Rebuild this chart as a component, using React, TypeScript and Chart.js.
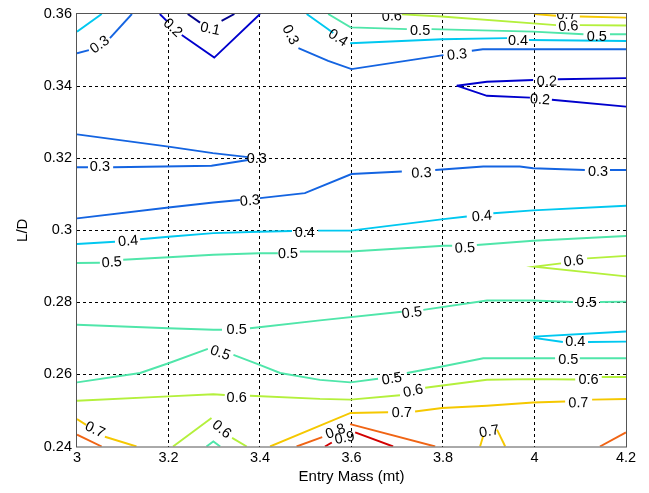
import React, { useEffect, useRef } from "react";
import { Chart, registerables } from "chart.js";

Chart.register(...registerables);

type Pt = [number, number];

const xTicks = [3, 3.2, 3.4, 3.6, 3.8, 4, 4.2];
const yTicks = [0.24, 0.26, 0.28, 0.3, 0.32, 0.34, 0.36];
const xTitle = "Entry Mass (mt)";
const yTitle = "L/D";

const contour01: Pt[][] = [
  [[3.242, 0.36], [3.269, 0.3576]],
  [[3.316, 0.3581], [3.344, 0.36]],
];

const contour02: Pt[][] = [
  [[3.181, 0.36], [3.196, 0.3581]],
  [[3.229, 0.3542], [3.3, 0.3479], [3.4, 0.36]],
  [[3.83, 0.3401], [3.896, 0.3412], [3.997, 0.3417]],
  [[4.051, 0.3419], [4.2, 0.3422]],
  [[3.83, 0.3401], [3.896, 0.3373], [3.99, 0.3368]],
  [[4.038, 0.3362], [4.2, 0.3343]],
];

const contour03: Pt[][] = [
  [[3, 0.3491], [3.026, 0.35]],
  [[3.072, 0.3533], [3.12, 0.36]],
  [[3.484, 0.3505], [3.549, 0.347], [3.6, 0.3447], [3.801, 0.3486]],
  [[3.863, 0.3498], [3.887, 0.3502], [4.2, 0.3502]],
  [[3, 0.3266], [3.2, 0.3232], [3.297, 0.3214], [3.374, 0.3203]],
  [[3, 0.3175], [3.024, 0.3175]],
  [[3.079, 0.3175], [3.188, 0.3177], [3.294, 0.3179], [3.374, 0.3195]],
  [[3, 0.3033], [3.2, 0.3063], [3.298, 0.3077], [3.356, 0.3084]],
  [[3.4, 0.3089], [3.498, 0.3103], [3.6, 0.3156], [3.71, 0.3163]],
  [[3.783, 0.3167], [3.888, 0.3177], [3.968, 0.3177], [3.997, 0.3172], [4.11, 0.3167]],
  [[4.165, 0.3167], [4.2, 0.3167]],
];

const contour04: Pt[][] = [
  [[3, 0.3551], [3.054, 0.36]],
  [[3.502, 0.36], [3.549, 0.3558], [3.56, 0.3547]],
  [[3.597, 0.3519], [3.797, 0.353], [3.94, 0.3533]],
  [[3.988, 0.3528], [4.2, 0.3525]],
  [[3, 0.2962], [3.083, 0.2968]],
  [[3.138, 0.2975], [3.2, 0.2982], [3.298, 0.2992], [3.398, 0.2996], [3.47, 0.2998]],
  [[3.527, 0.2999], [3.598, 0.2999], [3.801, 0.3031], [3.852, 0.3038]],
  [[3.91, 0.3047], [3.997, 0.3055], [4.2, 0.3068]],
  [[4.2, 0.2719], [4, 0.2705], [4, 0.2701], [4.062, 0.269]],
  [[4.117, 0.269], [4.2, 0.2691]],
];

const contour05: Pt[][] = [
  [[3.549, 0.36], [3.598, 0.3563], [3.721, 0.3558]],
  [[3.775, 0.3558], [3.997, 0.3551], [4.107, 0.3544]],
  [[4.165, 0.3544], [4.2, 0.3544]],
  [[3, 0.2909], [3.05, 0.291]],
  [[3.101, 0.2918], [3.2, 0.2925], [3.298, 0.2932], [3.398, 0.2936], [3.439, 0.2936]],
  [[3.487, 0.2941], [3.598, 0.2941], [3.75, 0.2953], [3.801, 0.2957], [3.82, 0.2957]],
  [[3.874, 0.2959], [3.997, 0.2971], [4.2, 0.2984]],
  [[3, 0.2738], [3.2, 0.2728], [3.298, 0.2724], [3.317, 0.2724]],
  [[3.378, 0.2728], [3.398, 0.2731], [3.531, 0.275], [3.71, 0.2774]],
  [[3.757, 0.2779], [3.896, 0.2805], [3.997, 0.2805], [4.084, 0.2801]],
  [[4.143, 0.2801], [4.2, 0.2802]],
  [[3, 0.2578], [3.138, 0.2604], [3.2, 0.2631], [3.286, 0.2671]],
  [[3.342, 0.2654], [3.398, 0.2627], [3.444, 0.2604], [3.531, 0.2585], [3.598, 0.2578], [3.658, 0.2588]],
  [[3.721, 0.2604], [3.798, 0.2622], [3.888, 0.2645], [3.997, 0.2645], [4.045, 0.2645]],
  [[4.099, 0.2645], [4.2, 0.2645]],
  [[3.283, 0.24], [3.298, 0.2414], [3.313, 0.24]],
];

const contour06: Pt[][] = [
  [[3.71, 0.3599], [3.797, 0.3593], [3.997, 0.3574], [4.047, 0.3569]],
  [[4.099, 0.3569], [4.2, 0.3568]],
  [[4.2, 0.2929], [4.115, 0.2922]],
  [[4.058, 0.2908], [4, 0.2899], [4.2, 0.2872]],
  [[3, 0.2527], [3.2, 0.2539], [3.298, 0.2545], [3.323, 0.2543]],
  [[3.378, 0.2541], [3.531, 0.2532], [3.598, 0.253], [3.706, 0.2542]],
  [[3.761, 0.2563], [3.896, 0.2585], [3.997, 0.2587], [4.089, 0.2586]],
  [[4.147, 0.2593], [4.2, 0.2593]],
  [[3.21, 0.24], [3.294, 0.2479]],
  [[3.339, 0.2424], [3.371, 0.24]],
];

const contour07: Pt[][] = [
  [[4, 0.36], [4.047, 0.3595]],
  [[4.099, 0.3593], [4.2, 0.359]],
  [[3, 0.2476], [3.02, 0.246]],
  [[3.061, 0.2427], [3.13, 0.24]],
  [[3.422, 0.24], [3.598, 0.2493], [3.68, 0.2495]],
  [[3.739, 0.2497], [3.798, 0.2507], [3.896, 0.2513], [3.997, 0.2522], [4.067, 0.2525]],
  [[4.126, 0.253], [4.2, 0.2532]],
  [[3.881, 0.24], [3.888, 0.243]],
  [[3.918, 0.2447], [3.936, 0.24]],
];

const contour08: Pt[][] = [
  [[3, 0.2433], [3.054, 0.24]],
  [[3.48, 0.24], [3.536, 0.2426]],
  [[3.597, 0.2462], [3.783, 0.24]],
  [[4.143, 0.24], [4.2, 0.2439]],
];

const contour09: Pt[][] = [
  [[3.542, 0.24], [3.557, 0.2411]],
  [[3.608, 0.2439], [3.691, 0.24]],
];

const levels = [0.1, 0.2, 0.3, 0.4, 0.5, 0.6, 0.7, 0.8, 0.9];
const contourSets = [contour01, contour02, contour03, contour04, contour05, contour06, contour07, contour08, contour09];
const levelColors = [
  "rgb(0,0,140)",
  "rgb(0,0,205)",
  "rgb(20,100,225)",
  "rgb(0,200,240)",
  "rgb(80,230,170)",
  "rgb(180,240,60)",
  "rgb(245,200,0)",
  "rgb(240,100,20)",
  "rgb(210,0,0)",
];

// [text, x, y, rotation in degrees]
const contourLabels: [string, number, number, number][] = [
  ["0.1", 3.291, 0.3558, 12],
  ["0.2", 3.209, 0.3561, 44],
  ["0.2", 4.027, 0.3412, -1],
  ["0.2", 4.012, 0.3362, 3],
  ["0.3", 3.05, 0.3514, -35],
  ["0.3", 3.466, 0.3542, 63],
  ["0.3", 3.831, 0.3486, -6],
  ["0.3", 3.05, 0.3175, 0],
  ["0.3", 3.393, 0.3199, 0],
  ["0.3", 3.378, 0.3081, -5],
  ["0.3", 3.753, 0.3158, -2],
  ["0.3", 4.139, 0.3163, 0],
  ["0.4", 3.57, 0.3533, 33],
  ["0.4", 3.964, 0.3525, 0],
  ["0.4", 3.112, 0.2969, -5],
  ["0.4", 3.498, 0.2992, 0],
  ["0.4", 3.885, 0.3038, -5],
  ["0.4", 4.089, 0.2689, 0],
  ["0.5", 3.75, 0.3553, 0],
  ["0.5", 4.136, 0.3537, 0],
  ["0.5", 3.076, 0.291, -4],
  ["0.5", 3.461, 0.2934, -1],
  ["0.5", 3.848, 0.295, -3],
  ["0.5", 3.349, 0.2724, 0],
  ["0.5", 3.732, 0.277, -7],
  ["0.5", 4.114, 0.2798, 0],
  ["0.5", 3.313, 0.2659, 20],
  ["0.5", 3.688, 0.2587, -9],
  ["0.5", 4.074, 0.2641, 0],
  ["0.6", 3.688, 0.3593, -3],
  ["0.6", 4.074, 0.3565, -2],
  ["0.6", 4.086, 0.2914, -7],
  ["0.6", 3.349, 0.2534, 0],
  ["0.6", 3.735, 0.2553, -12],
  ["0.6", 4.118, 0.2585, 0],
  ["0.6", 3.316, 0.2447, 39],
  ["0.7", 4.07, 0.3597, -1],
  ["0.7", 3.039, 0.2446, 25],
  ["0.7", 3.71, 0.2493, -1],
  ["0.7", 4.096, 0.252, -2],
  ["0.7", 3.901, 0.2441, -10],
  ["0.8", 3.565, 0.2441, -20],
  ["0.9", 3.585, 0.2423, -10],
];

const FONT = '"Liberation Sans", Arial, Helvetica, sans-serif';

const labelPlugin = {
  id: "contourLabels",
  afterDatasetsDraw(chart: any) {
    const { ctx, chartArea, scales } = chart;
    const xs = scales.x;
    const ys = scales.y;
    ctx.save();
    ctx.beginPath();
    ctx.rect(chartArea.left, chartArea.top, chartArea.right - chartArea.left, chartArea.bottom - chartArea.top);
    ctx.clip();
    ctx.font = `14.5px ${FONT}`;
    ctx.fillStyle = "#000";
    ctx.textAlign = "center";
    ctx.textBaseline = "middle";
    for (const [t, vx, vy, r] of contourLabels) {
      ctx.save();
      ctx.translate(xs.getPixelForValue(vx), ys.getPixelForValue(vy));
      ctx.rotate((r * Math.PI) / 180);
      ctx.fillText(t, 0, 0);
      ctx.restore();
    }
    ctx.restore();
  },
};

const boxPlugin = {
  id: "axesBox",
  afterDraw(chart: any) {
    const { ctx, chartArea } = chart;
    ctx.save();
    ctx.strokeStyle = "#555";
    ctx.lineWidth = 1;
    ctx.setLineDash([]);
    ctx.strokeRect(
      chartArea.left - 0.5,
      chartArea.top - 0.5,
      chartArea.right - chartArea.left + 1,
      chartArea.bottom - chartArea.top + 1
    );
    ctx.restore();
  },
};

const near = (a: number, b: number) => Math.abs(a - b) < 1e-9;

export default function App() {
  const ref = useRef<HTMLCanvasElement>(null);

  useEffect(() => {
    document.body.style.margin = "0";
    const datasets: any[] = [];
    contourSets.forEach((segs, i) => {
      segs.forEach((seg) => {
        datasets.push({
          label: String(levels[i]),
          data: seg.map(([x, y]) => ({ x, y })),
          borderColor: levelColors[i],
          backgroundColor: levelColors[i],
          borderWidth: 1.9,
          pointRadius: 0,
          pointHoverRadius: 0,
          showLine: true,
          fill: false,
          tension: 0,
        });
      });
    });

    const chart = new Chart(ref.current as HTMLCanvasElement, {
      type: "scatter",
      data: { datasets },
      options: {
        responsive: false,
        animation: false,
        events: [],
        layout: { padding: { left: 0, right: 23, top: 14, bottom: 0 } },
        plugins: { legend: { display: false }, tooltip: { enabled: false } },
        scales: {
          x: {
            type: "linear",
            min: xTicks[0],
            max: xTicks[xTicks.length - 1],
            afterBuildTicks: (s: any) => {
              s.ticks = xTicks.map((v) => ({ value: v }));
            },
            afterFit: (s: any) => {
              s.height = 46.5;
            },
            ticks: {
              padding: 3,
              color: "#000",
              font: { family: FONT, size: 14.5 },
              maxRotation: 0,
              autoSkip: false,
              callback: (v: any) => String(v),
            },
            grid: {
              drawTicks: false,
              lineWidth: 1,
              color: (c: any) =>
                c.tick && (near(c.tick.value, xTicks[0]) || near(c.tick.value, xTicks[xTicks.length - 1]))
                  ? "rgba(0,0,0,0)"
                  : "#000",
            },
            border: { display: false, dash: [3, 3] },
            title: {
              display: true,
              text: xTitle,
              color: "#000",
              font: { family: FONT, size: 15 },
              padding: { top: 0, bottom: 7 },
            },
          },
          y: {
            type: "linear",
            min: yTicks[0],
            max: yTicks[yTicks.length - 1],
            afterBuildTicks: (s: any) => {
              s.ticks = yTicks.map((v) => ({ value: v }));
            },
            afterFit: (s: any) => {
              s.width = 77;
            },
            ticks: {
              padding: 5,
              color: "#000",
              font: { family: FONT, size: 14.5 },
              autoSkip: false,
              callback: (v: any) => String(v),
            },
            grid: {
              drawTicks: false,
              lineWidth: 1,
              color: (c: any) =>
                c.tick && (near(c.tick.value, yTicks[0]) || near(c.tick.value, yTicks[yTicks.length - 1]))
                  ? "rgba(0,0,0,0)"
                  : "#000",
            },
            border: { display: false, dash: [3, 3] },
            title: {
              display: true,
              text: yTitle,
              color: "#000",
              font: { family: FONT, size: 15 },
              padding: { top: 14, bottom: 0 },
            },
          },
        },
      },
      plugins: [labelPlugin, boxPlugin],
    });
    return () => chart.destroy();
  }, []);

  return <canvas ref={ref} width={649} height={493} style={{ display: "block" }} />;
}
